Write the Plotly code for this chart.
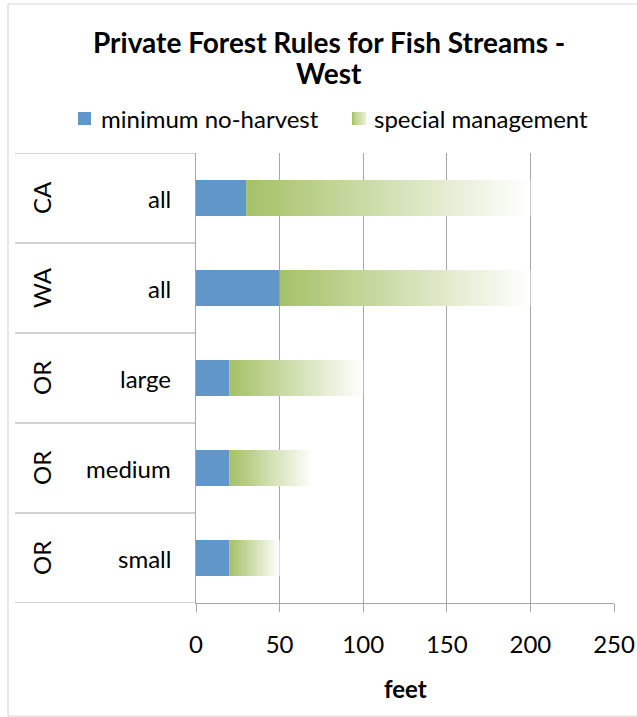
import plotly.graph_objects as go

# ---- data ----
states = ["OR", "OR", "OR", "WA", "CA"]           # bottom -> top
sizes = ["small", "medium", "large", "all", "all"]
min_no_harvest = [20, 20, 20, 50, 30]
special_mgmt = [30, 50, 80, 150, 170]               # width of the special-management zone
x_ticks = [0, 50, 100, 150, 200, 250]
series_names = ["minimum no-harvest", "special management"]
title_lines = ["Private Forest Rules for Fish Streams -", "West"]
x_title = "feet"

# ---- geometry helpers (pixel -> paper) ----
W, H = 637, 717
L, R, T, B = 196, 23, 153, 114
PW, PH = W - L - R, H - T - B


def px(p):
    return (p - L) / PW


def py(p):
    return (H - B - p) / PH


FONT = "Lato"
BLUE = "#6096c8"
GREEN0 = "#a5c166"
GRID = "#a6a6a6"
BAR_W = 0.4
FS = 24

fig = go.Figure()

ypos = list(range(len(sizes)))

fig.add_trace(go.Bar(
    y=ypos, x=min_no_harvest, orientation="h", width=BAR_W,
    marker=dict(color=BLUE, line=dict(width=0)), name=series_names[0],
    showlegend=False,
))

for i, (b, s) in enumerate(zip(min_no_harvest, special_mgmt)):
    x0, x1 = b, b + s
    fig.add_trace(go.Scatter(
        x=[x0, x1, x1, x0, x0],
        y=[i - BAR_W / 2, i - BAR_W / 2, i + BAR_W / 2, i + BAR_W / 2, i - BAR_W / 2],
        mode="lines", line=dict(width=0), fill="toself",
        fillgradient=dict(type="horizontal", start=x0, stop=x1,
                          colorscale=[[0, GREEN0], [1, "#ffffff"]]),
        name=series_names[1], showlegend=False, hoverinfo="skip",
    ))

shapes = []
annotations = []

# chart border
shapes.append(dict(type="rect", xref="paper", yref="paper",
                   x0=px(8), x1=px(660), y0=py(716), y1=py(4),
                   line=dict(color="#d9d9d9", width=1.2), fillcolor="rgba(0,0,0,0)", layer="below"))

# category dividers (multi-level axis look)
for k in range(len(sizes) + 1):
    yv = k - 0.5
    shapes.append(dict(type="line", xref="paper", yref="y",
                       x0=px(15), x1=0, y0=yv, y1=yv,
                       line=dict(color=GRID, width=1.2)))

for i in ypos:
    annotations.append(dict(xref="paper", yref="y", x=px(173), y=i, text=sizes[i],
                            xanchor="right", yanchor="middle", showarrow=False,
                            font=dict(family=FONT, size=FS, color="#000")))
    annotations.append(dict(xref="paper", yref="y", x=px(41), y=i, text=states[i],
                            textangle=-90, xanchor="center", yanchor="middle", showarrow=False,
                            font=dict(family=FONT, size=FS, color="#000")))

# title (two lines)
for line, yc in zip(title_lines, [42, 73]):
    annotations.append(dict(xref="paper", yref="paper", x=px(329), y=py(yc), text="<b>" + line + "</b>",
                            xanchor="center", yanchor="middle", showarrow=False,
                            font=dict(family=FONT, size=28, color="#000")))

# legend (manual)
shapes.append(dict(type="rect", xref="paper", yref="paper",
                   x0=px(78), x1=px(91), y0=py(125), y1=py(112),
                   fillcolor=BLUE, line=dict(width=0)))
nstrip = 13
g0 = tuple(int(GREEN0[j:j + 2], 16) for j in (1, 3, 5))
for k in range(nstrip):
    f = k / (nstrip - 1) * 0.75
    c = tuple(round(g0[j] + (255 - g0[j]) * f) for j in range(3))
    shapes.append(dict(type="rect", xref="paper", yref="paper",
                       x0=px(352 + k * 14 / nstrip), x1=px(352 + (k + 1) * 14 / nstrip + 0.3),
                       y0=py(125), y1=py(112),
                       fillcolor="rgb(%d,%d,%d)" % c, line=dict(width=0)))
annotations.append(dict(xref="paper", yref="paper", x=px(99), y=py(119), text=series_names[0],
                        xanchor="left", yanchor="middle", showarrow=False,
                        font=dict(family=FONT, size=FS, color="#000")))
annotations.append(dict(xref="paper", yref="paper", x=px(372), y=py(119), text=series_names[1],
                        xanchor="left", yanchor="middle", showarrow=False,
                        font=dict(family=FONT, size=FS, color="#000")))

# x axis title
annotations.append(dict(xref="paper", yref="paper", x=px(405), y=py(688), text="<b>" + x_title + "</b>",
                        xanchor="center", yanchor="middle", showarrow=False,
                        font=dict(family=FONT, size=FS, color="#000")))

fig.update_layout(
    template="none",
    width=W, height=H,
    margin=dict(l=L, r=R, t=T, b=B, pad=0, autoexpand=False),
    paper_bgcolor="white", plot_bgcolor="white",
    showlegend=False,
    barmode="overlay",
    shapes=shapes, annotations=annotations,
    xaxis=dict(range=[0, 250], tickvals=x_ticks, showgrid=True, gridcolor=GRID, gridwidth=1.2,
               showline=True, linecolor=GRID, linewidth=1.2, ticks="outside", ticklen=8,
               tickcolor=GRID, tickwidth=1.2, zeroline=False, ticklabelstandoff=12,
               automargin=False,
               tickfont=dict(family=FONT, size=FS, color="#000"), fixedrange=True),
    yaxis=dict(range=[-0.5, 4.5], showticklabels=False, showgrid=False, zeroline=False,
               showline=True, linecolor=GRID, linewidth=1.2, ticks="", automargin=False,
               fixedrange=True),
)

fig.write_html("out.html")
